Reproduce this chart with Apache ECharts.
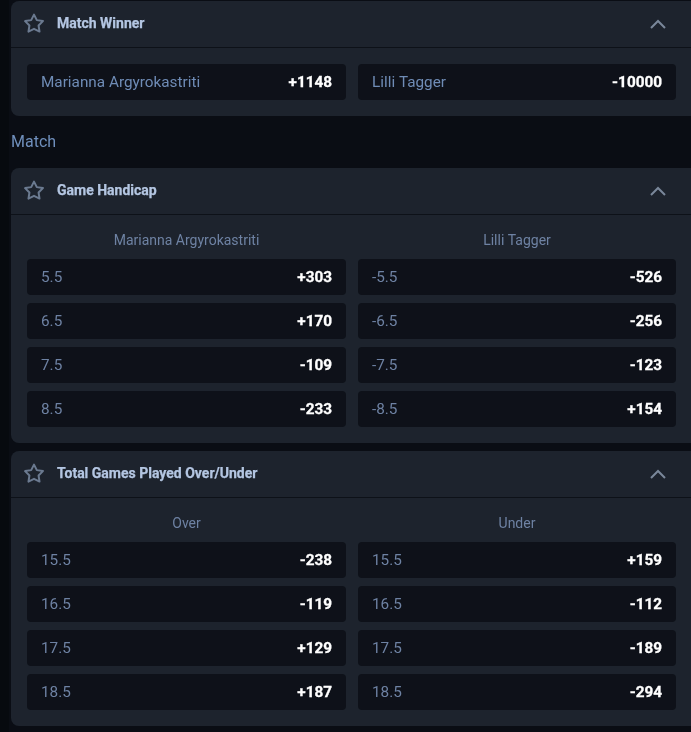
<!DOCTYPE html>
<html>
<head>
<meta charset="utf-8">
<title>Match markets</title>
<style>
  html, body { margin: 0; padding: 0; background: #0a0d14; }
  #main { width: 691px; height: 732px; }
</style>
<script src="https://cdn.jsdelivr.net/npm/echarts@6/dist/echarts.min.js"></script>
</head>
<body>
<div id="main"></div>
<script>
  // market titles
  const titles = ['Match Winner', 'Game Handicap', 'Total Games Played Over/Under'];
  const sectionLabel = 'Match';

  // column heads per market
  const handicapHeads = ['Marianna Argyrokastriti', 'Lilli Tagger'];
  const totalsHeads = ['Over', 'Under'];

  // match winner
  const winnerNames = ['Marianna Argyrokastriti', 'Lilli Tagger'];
  const winnerOdds = ['+1148', '-10000'];

  // game handicap
  const handicapLeftLines = ['5.5', '6.5', '7.5', '8.5'];
  const handicapLeftOdds = ['+303', '+170', '-109', '-233'];
  const handicapRightLines = ['-5.5', '-6.5', '-7.5', '-8.5'];
  const handicapRightOdds = ['-526', '-256', '-123', '+154'];

  // total games
  const totalsLines = ['15.5', '16.5', '17.5', '18.5'];
  const overOdds = ['-238', '-119', '+129', '+187'];
  const underOdds = ['+159', '-112', '-189', '-294'];

  const FONT = 'Roboto';
  const COL_X = [27, 358];
  const COL_W = [319, 318];
  const ROW_H = 36;
  const ROW_GAP = 44;

  const chart = echarts.init(document.getElementById('main'), null, { renderer: 'canvas' });

  // one row per odds cell: [col, top, label, odds, labelColor]
  const cells = [];
  function addCol(col, top, labels, odds, color) {
    labels.forEach((l, i) => cells.push([col, top + i * ROW_GAP, l, odds[i], color]));
  }
  addCol(0, 64, winnerNames.slice(0, 1), winnerOdds.slice(0, 1), '#6f8cb6');
  addCol(1, 64, winnerNames.slice(1), winnerOdds.slice(1), '#6f8cb6');
  addCol(0, 259, handicapLeftLines, handicapLeftOdds, '#6e82a3');
  addCol(1, 259, handicapRightLines, handicapRightOdds, '#6e82a3');
  addCol(0, 542, totalsLines, overOdds, '#6e82a3');
  addCol(1, 542, totalsLines, underOdds, '#6e82a3');

  function starPath(cx, cy, R, r) {
    const pts = [];
    for (let i = 0; i < 10; i++) {
      const a = -Math.PI / 2 + i * Math.PI / 5;
      const rad = i % 2 ? r : R;
      pts.push([cx + rad * Math.cos(a), cy + rad * Math.sin(a)]);
    }
    return pts;
  }

  // panel frame: background, header line, star, title, chevron
  function panel(top, bottom, title) {
    const line = top + 46;
    return [
      { type: 'rect', shape: { x: 11, y: top, width: 690, height: bottom - top, r: 8 }, style: { fill: '#1d232d' } },
      { type: 'rect', shape: { x: 11, y: line, width: 680, height: 1 }, style: { fill: '#0d1118' } },
      { type: 'polygon', shape: { points: starPath(34, top + 23, 9.4, 4.8) }, style: { fill: 'none', stroke: '#6b7a90', lineWidth: 2, lineJoin: 'round' } },
      { type: 'text', x: 57, y: top + 23, style: { text: title, fill: '#b4c6e2', stroke: '#b4c6e2', lineWidth: 0.25, font: 'bold 14px ' + FONT, textVerticalAlign: 'middle' } },
      { type: 'polyline', shape: { points: [[651, top + 27], [658, top + 20], [665, top + 27]] }, style: { stroke: '#7a879a', lineWidth: 2, fill: 'none' } }
    ];
  }

  function heads(y, labels) {
    return labels.map((t, i) => ({
      type: 'text', x: COL_X[i] + COL_W[i] / 2, y: y,
      style: { text: t, fill: '#6e82a3', font: '14px ' + FONT, textAlign: 'center', textVerticalAlign: 'middle' }
    }));
  }

  const frame = [].concat(
    [{ type: 'rect', shape: { x: 0, y: 0, width: 9, height: 732 }, style: { fill: '#070a0f' } }],
    panel(1, 116, titles[0]),
    panel(168, 443, titles[1]),
    panel(451, 726, titles[2]),
    heads(241, handicapHeads),
    heads(524, totalsHeads),
    [{ type: 'text', x: 11, y: 143, style: { text: sectionLabel, fill: '#6f8fbc', font: '16px ' + FONT, textVerticalAlign: 'middle' } }]
  );

  chart.setOption({
    backgroundColor: '#0a0d14',
    animation: false,
    graphic: { elements: frame },
    series: [{
      type: 'custom',
      coordinateSystem: 'none',
      silent: true,
      data: cells,
      renderItem: function (params, api) {
        const d = cells[params.dataIndex];
        const x = COL_X[d[0]], w = COL_W[d[0]], y = d[1];
        return {
          type: 'group',
          children: [
            { type: 'rect', shape: { x: x, y: y, width: w, height: ROW_H, r: 4 }, style: { fill: '#0e1119' } },
            { type: 'text', x: x + 14, y: y + 19, style: { text: d[2], fill: d[4], font: '15.3px ' + FONT, textVerticalAlign: 'middle' } },
            { type: 'text', x: x + w - 14, y: y + 19, style: { text: d[3], fill: '#ffffff', stroke: '#ffffff', lineWidth: 0.3, font: 'bold 15.3px ' + FONT, textAlign: 'right', textVerticalAlign: 'middle' } }
          ]
        };
      }
    }]
  });

  window.addEventListener('resize', () => chart.resize());
</script>
</body>
</html>
